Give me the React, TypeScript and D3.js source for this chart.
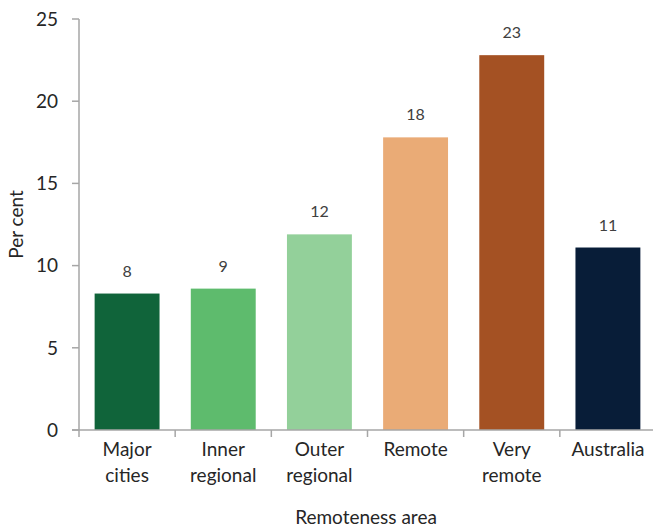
import * as d3 from "d3"

const categories = [["Major", "cities"], ["Inner", "regional"], ["Outer", "regional"], ["Remote"], ["Very", "remote"], ["Australia"]]
const values = [8.3, 8.6, 11.9, 17.8, 22.8, 11.1]
const valueLabels = ["8", "9", "12", "18", "23", "11"]
const colors = ["#10643a", "#5ebb6d", "#93d09a", "#eaab76", "#a45123", "#081d38"]
const yTicks = [0, 5, 10, 15, 20, 25]

const W = 653, H = 528
const left = 79, right = 656, top = 19, bottom = 430
const font = "Lato, sans-serif"
const axisColor = "#a6a6a6"
const textColor = "#262626"

export default function App() {
  const x = d3.scaleBand<number>().domain(d3.range(categories.length)).range([left, right]).paddingInner(0.325).paddingOuter(0.1625)
  const y = d3.scaleLinear().domain([0, 25]).range([bottom, top])
  const step = x.step()

  return (
    <svg width={W} height={H} style={{ position: "absolute", left: 0, top: 0 }} fontFamily={font}>
      {values.map((v, i) => (
        <g key={i}>
          <rect x={x(i)} y={y(v)} width={x.bandwidth()} height={y(0) - y(v)} fill={colors[i]} />
          <text x={x(i)! + x.bandwidth() / 2} y={y(v) - 17} textAnchor="middle" fontSize={16} fill="#404040">{valueLabels[i]}</text>
        </g>
      ))}
      <line x1={left} x2={left} y1={top} y2={bottom} stroke={axisColor} strokeWidth={1.5} />
      {yTicks.map(t => (
        <g key={t}>
          <line x1={left - 7} x2={left} y1={y(t)} y2={y(t)} stroke={axisColor} strokeWidth={1.5} />
          <text x={58} y={y(t)} dy="0.36em" textAnchor="end" fontSize={19} fill={textColor}>{t}</text>
        </g>
      ))}
      <line x1={left - 7} x2={W} y1={bottom} y2={bottom} stroke={axisColor} strokeWidth={1.5} />
      {d3.range(categories.length + 1).map(i => (
        <line key={i} x1={left + i * step} x2={left + i * step} y1={bottom} y2={bottom + 7} stroke={axisColor} strokeWidth={1.5} />
      ))}
      {categories.map((lines, i) => (
        <text key={i} x={x(i)! + x.bandwidth() / 2} y={456} textAnchor="middle" fontSize={19} fill={textColor}>
          {lines.map((l, j) => (
            <tspan key={j} x={x(i)! + x.bandwidth() / 2} dy={j === 0 ? 0 : 26}>{l}</tspan>
          ))}
        </text>
      ))}
      <text transform={`translate(23,${(top + bottom) / 2}) rotate(-90)`} textAnchor="middle" fontSize={19} fill={textColor}>Per cent</text>
      <text x={366} y={524} textAnchor="middle" fontSize={19} fill={textColor}>Remoteness area</text>
    </svg>
  )
}
